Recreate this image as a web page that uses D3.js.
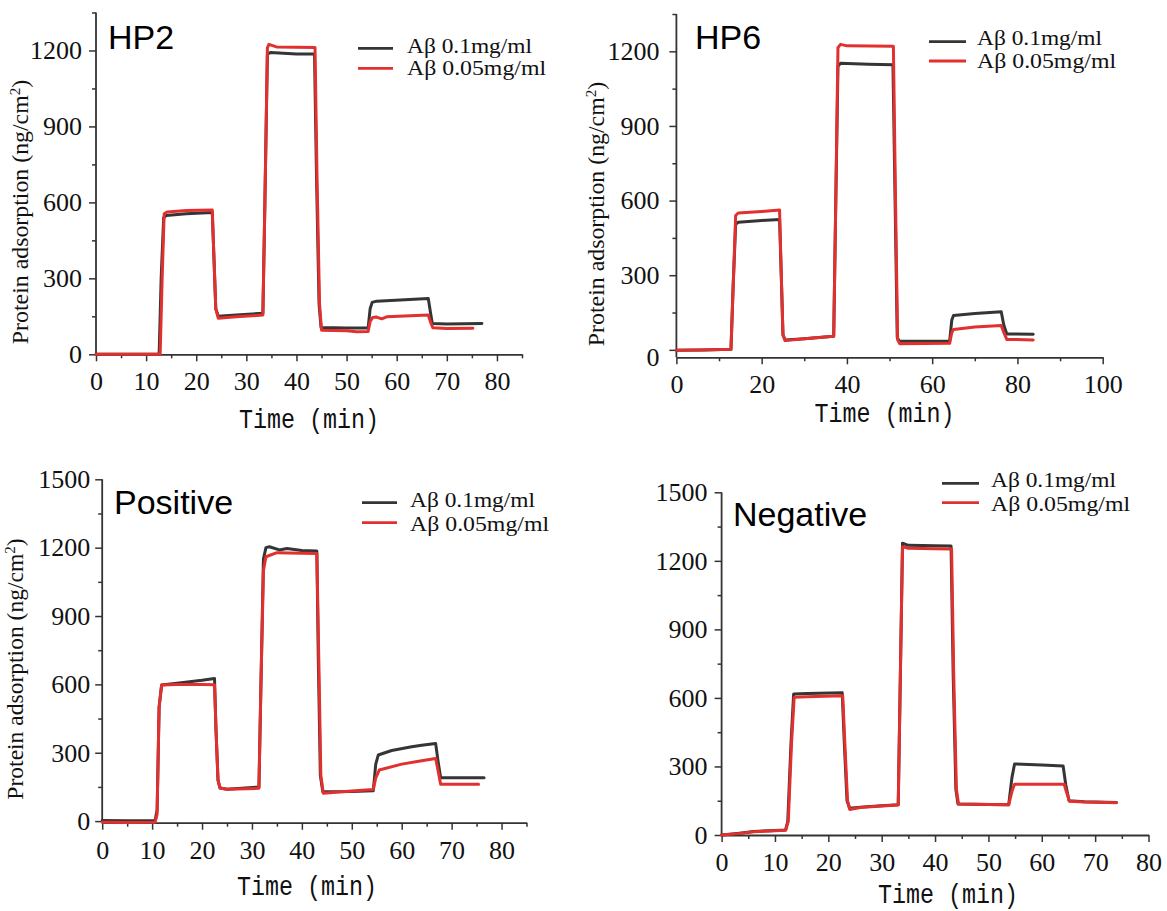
<!DOCTYPE html>
<html><head><meta charset="utf-8">
<script src="https://cdn.jsdelivr.net/npm/d3@7"></script>
<style>body{margin:0;background:#fff} svg{display:block}</style>
</head><body>
<svg id="chart" width="1167" height="911"></svg>
<script>
// ---------------- DATA ----------------
const panelTitles = ["HP2", "HP6", "Positive", "Negative"];
const seriesNames = ["Aβ 0.1mg/ml", "Aβ 0.05mg/ml"];
const xAxisTitle = "Time (min)";
const yAxisTitle = "Protein adsorption (ng/cm";

const xTicks80 = [0, 10, 20, 30, 40, 50, 60, 70, 80];
const xMinor85 = [5, 15, 25, 35, 45, 55, 65, 75, 85];
const xMinor80 = [5, 15, 25, 35, 45, 55, 65, 75];
const xTicks100 = [0, 20, 40, 60, 80, 100];
const xMinor100 = [10, 30, 50, 70, 90];
const yTicks1200 = [0, 300, 600, 900, 1200];
const yMinor1350 = [150, 450, 750, 1050, 1350];
const yTicks1500 = [0, 300, 600, 900, 1200, 1500];
const yMinor1500 = [150, 450, 750, 1050, 1350];

// [time (min), adsorption (ng/cm2)]
const hp2Conc01 = [[0,0],[12.6,0],[13.0,300],[13.5,540],[14,548],[18,555],[23.2,560],[23.5,400],[23.9,180],[24.4,150],[28,155],[33.3,162],[33.7,600],[34.2,1185],[34.8,1192],[40,1186],[43.6,1186],[44.0,700],[44.5,200],[44.9,106],[50,104],[54.3,104],[54.7,180],[55.1,205],[56,210],[66.3,220],[66.7,170],[67.1,122],[70,120],[77,122]];
const hp2Conc005 = [[0,0],[12.8,0],[13.2,300],[13.6,555],[14.2,562],[18,568],[23.2,570],[23.5,400],[23.9,180],[24.4,142],[28,148],[33.3,155],[33.7,600],[34.2,1210],[34.5,1224],[36,1214],[43.7,1212],[44.1,700],[44.6,200],[45.0,95],[50,93],[52,89],[54.3,90],[54.7,130],[55.2,145],[56,147],[57,140],[58,148],[66.3,155],[66.7,130],[67.2,105],[70,102],[75.2,103]];

const hp6Conc01 = [[0,-2],[6,-1],[12.8,2],[13.3,250],[13.9,505],[14.5,513],[20,520],[24.2,524],[24.6,300],[25.0,60],[25.5,40],[30,45],[36.9,55],[37.3,500],[37.9,1140],[38.5,1152],[45,1148],[50.8,1146],[51.3,600],[51.8,50],[52.3,35],[58,35],[64.1,36],[64.6,120],[65,138],[70,146],[76.2,153],[76.8,100],[77.5,64],[83.7,63]];
const hp6Conc005 = [[0,-2],[6,-1],[12.8,2],[13.3,250],[13.9,540],[14.5,550],[20,556],[24.2,562],[24.6,300],[25.0,60],[25.5,37],[30,45],[36.9,55],[37.3,500],[37.9,1215],[38.5,1228],[40,1222],[50.9,1220],[51.4,600],[51.9,40],[52.4,24],[58,25],[64.1,26],[64.6,70],[65,82],[70,92],[76.2,98],[76.8,70],[77.5,42],[83.7,40]];

const posConc01 = [[0,3],[5,2],[10.6,3],[11.0,50],[11.4,500],[11.9,597],[15,605],[20,618],[22.5,626],[22.8,400],[23.2,180],[23.6,145],[25,140],[31.4,150],[31.8,600],[32.3,1150],[32.8,1200],[33.5,1204],[35.5,1190],[37,1196],[40,1188],[43,1185],[43.3,700],[43.7,200],[44.2,129],[50,130],[54.3,133],[54.8,250],[55.3,290],[58,310],[62,326],[64,333],[66.8,341],[67.3,260],[67.8,190],[76.5,190]];
const posConc005 = [[0,-5],[5,-6],[10.6,-5],[11.0,30],[11.4,500],[11.9,597],[15,600],[20,600],[22.5,598],[22.8,400],[23.2,180],[23.6,145],[25,140],[31.4,144],[31.8,600],[32.3,1100],[32.8,1160],[35,1178],[40,1176],[43,1174],[43.4,700],[43.8,200],[44.3,122],[50,132],[54.3,139],[54.8,190],[55.5,224],[60,250],[64,265],[66.8,275],[67.3,220],[67.8,162],[75.4,162]];

const negConc01 = [[0,0],[3,7],[6,15],[9,19],[12,22],[12.4,60],[13,400],[13.5,617],[16,619],[22.6,623],[23,400],[23.5,150],[24,117],[26,122],[30,128],[33.1,132],[33.5,700],[33.9,1277],[35,1268],[40,1266],[43,1265],[43.4,700],[43.9,200],[44.3,136],[50,133],[53.8,132],[54.4,250],[54.9,311],[60,306],[64,302],[64.5,220],[65.1,150],[68,146],[74,142]];
const negConc005 = [[0,0],[3,6],[6,14],[9,18],[12,21],[12.5,60],[13.1,400],[13.6,603],[16,605],[22.7,609],[23.1,400],[23.6,150],[24,112],[26,120],[30,127],[33.1,131],[33.5,700],[33.9,1262],[35,1255],[40,1253],[43.1,1252],[43.5,700],[44,200],[44.4,136],[50,133],[53.8,132],[54.4,190],[54.9,222],[60,222],[64.2,222],[64.6,190],[65.2,148],[68,144],[74,141]];

// ---------------- LAYOUT ----------------
const colors = ["#353535", "#e2302e"];
const panels = [
  { title: panelTitles[0], series: [hp2Conc01, hp2Conc005],
    xDom: [0, 85], xRange: [96, 522], yDom: [0, 1350], yRange: [354.3, 12.5],
    xTicks: xTicks80, xMinor: xMinor85, yTicks: yTicks1200, yMinor: yMinor1350, yPad: 7, zeroShift: 0,
    titleX: 108, titleY: 49, legX: [358, 393], legY: [48.3, 68.3], legTextX: 407, legBase: [53, 75],
    yLab: { x: 28, y: 212, len: 265 }, xLab: { x: 309, y: 428 } },
  { title: panelTitles[1], series: [hp6Conc01, hp6Conc005],
    xDom: [0, 100], xRange: [676.4, 1102.7], yDom: [-30, 1350], yRange: [357.3, 14],
    xTicks: xTicks100, xMinor: xMinor100, yTicks: yTicks1200, yMinor: yMinor1350, yPad: 10, zeroShift: 7,
    titleX: 695, titleY: 49, legX: [929, 966], legY: [41.7, 61], legTextX: 977, legBase: [45, 68],
    yLab: { x: 604, y: 214, len: 265 }, xLab: { x: 884.5, y: 422 } },
  { title: panelTitles[2], series: [posConc01, posConc005],
    xDom: [0, 85], xRange: [102.2, 526.5], yDom: [-7, 1500], yRange: [822.7, 479.3],
    xTicks: xTicks80, xMinor: xMinor85, yTicks: yTicks1500, yMinor: yMinor1500, yPad: 5, zeroShift: 0,
    titleX: 114, titleY: 514, legX: [362, 397], legY: [502.7, 522.7], legTextX: 410, legBase: [507, 531],
    yLab: { x: 23, y: 669, len: 262 }, xLab: { x: 307, y: 895 } },
  { title: panelTitles[3], series: [negConc01, negConc005],
    xDom: [0, 80], xRange: [721.6, 1148.5], yDom: [0, 1500], yRange: [835, 492.3],
    xTicks: xTicks80, xMinor: xMinor80, yTicks: yTicks1500, yMinor: yMinor1500, yPad: 7, zeroShift: 0,
    titleX: 733, titleY: 526, legX: [942, 979], legY: [483.3, 502.7], legTextX: 991, legBase: [487, 511],
    yLab: null, xLab: { x: 948, y: 903 } }
];

const svg = d3.select("#chart");
const axisColor = "#333";
const serif = "'Liberation Serif', 'Times New Roman', serif";
const legendWidths = [125, 139];

panels.forEach(p => {
  const g = svg.append("g");
  const x = d3.scaleLinear().domain(p.xDom).range(p.xRange);
  const y = d3.scaleLinear().domain(p.yDom).range(p.yRange);
  const xAxisY = p.yRange[0];
  const yAxisX = p.xRange[0];

  // minor ticks
  g.append("g").attr("transform", `translate(0,${xAxisY})`)
    .call(d3.axisBottom(x).tickValues(p.xMinor).tickSize(4).tickSizeOuter(0).tickFormat(""))
    .call(a => a.select(".domain").remove());
  g.append("g").attr("transform", `translate(${yAxisX},0)`)
    .call(d3.axisLeft(y).tickValues(p.yMinor).tickSize(4).tickSizeOuter(0).tickFormat(""))
    .call(a => a.select(".domain").remove());

  // major x axis
  const xa = g.append("g").attr("transform", `translate(0,${xAxisY})`)
    .call(d3.axisBottom(x).tickValues(p.xTicks).tickSize(7).tickSizeOuter(0).tickFormat(d3.format("d")));
  xa.selectAll("text").attr("y", 36).attr("dy", 0);
  // major y axis
  const ya = g.append("g").attr("transform", `translate(${yAxisX},0)`)
    .call(d3.axisLeft(y).tickValues(p.yTicks).tickSize(7).tickPadding(p.yPad).tickSizeOuter(0).tickFormat(d3.format("d")));
  ya.select(".domain").attr("d", `M0,${p.yRange[0]}V${p.yRange[1]}`);
  ya.selectAll(".tick").filter(d => d === 0).select("text").attr("y", p.zeroShift);

  g.selectAll(".tick line").attr("stroke", axisColor).attr("stroke-width", 1.5);
  g.selectAll(".domain").attr("stroke", axisColor).attr("stroke-width", 1.8);
  g.selectAll(".tick text").attr("font-family", serif).attr("font-size", 26).attr("fill", "#111");

  // data lines
  const line = d3.line().x(d => x(d[0])).y(d => y(d[1]));
  p.series.forEach((s, i) => {
    g.append("path").datum(s).attr("d", line)
      .attr("fill", "none").attr("stroke", colors[i]).attr("stroke-width", 3)
      .attr("stroke-linejoin", "round").attr("stroke-linecap", "round");
  });

  // title
  g.append("text").attr("x", p.titleX).attr("y", p.titleY)
    .attr("font-family", "'Liberation Sans', Arial, sans-serif").attr("font-size", 34)
    .attr("fill", "#000").text(p.title);

  // legend
  seriesNames.forEach((name, i) => {
    g.append("line").attr("x1", p.legX[0]).attr("x2", p.legX[1])
      .attr("y1", p.legY[i]).attr("y2", p.legY[i])
      .attr("stroke", colors[i]).attr("stroke-width", 2.8);
    g.append("text").attr("x", p.legTextX).attr("y", p.legBase[i])
      .attr("font-family", serif).attr("font-size", 21.5)
      .attr("textLength", legendWidths[i]).attr("lengthAdjust", "spacingAndGlyphs")
      .attr("fill", "#111").text(name);
  });

  // x-axis title
  g.append("text").attr("x", p.xLab.x).attr("y", p.xLab.y)
    .attr("text-anchor", "middle").attr("font-family", "'Liberation Mono', monospace")
    .attr("font-size", 27).attr("textLength", 140).attr("lengthAdjust", "spacingAndGlyphs")
    .attr("fill", "#111").text(xAxisTitle);

  // y-axis title
  if (p.yLab) {
    const t = g.append("text")
      .attr("transform", `translate(${p.yLab.x},${p.yLab.y}) rotate(-90)`)
      .attr("text-anchor", "middle").attr("font-family", serif)
      .attr("font-size", 22).attr("fill", "#111");
    t.append("tspan").text(yAxisTitle);
    t.append("tspan").attr("dy", -8).attr("font-size", 15).text("2");
    t.append("tspan").attr("dy", 8).text(")");
    const len = t.node().getComputedTextLength();
    t.attr("font-size", 22 * p.yLab.len / len);
  }
});
</script>
</body></html>
